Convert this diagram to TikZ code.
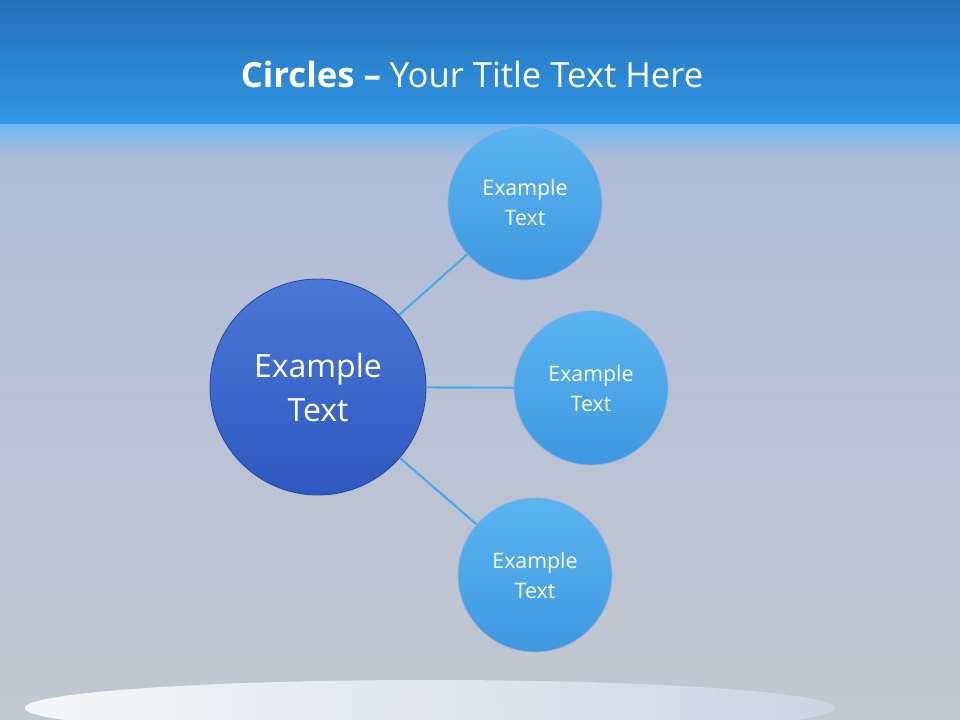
\documentclass[tikz,border=0pt]{standalone}
\usepackage{fontspec}
\setmainfont{Open Sans}
\begin{document}
\begin{tikzpicture}[x=0.75pt,y=-0.75pt,
  big/.style={circle,draw=#1!80!black,line width=0.6pt,minimum size=162pt,inner sep=0pt,text=white,align=center,font=\fontsize{24}{33}\selectfont},
  small/.style={circle,draw=cyan!40!blue!40,line width=0.6pt,minimum size=115.5pt,inner sep=0pt,top color=smtop,bottom color=smbot,text=white,align=center,font=\fontsize{16}{22.5}\selectfont},
  link/.style={draw=linkc,line width=1.6pt}]
\definecolor{bg}{HTML}{C2C8D0}
\definecolor{bgtop}{HTML}{B0BCD8}
\definecolor{hdtop}{HTML}{2470B8}
\definecolor{hdbot}{HTML}{3399E8}
\definecolor{smtop}{HTML}{5AB4F0}
\definecolor{smbot}{HTML}{3E98E0}
\definecolor{bgtopc}{HTML}{4A78D6}
\definecolor{bgbotc}{HTML}{3058C0}
\definecolor{linkc}{HTML}{4AA8EC}
\useasboundingbox (0,0) rectangle (960,720);
\shade[top color=bgtop,bottom color=bg] (0,130) rectangle (960,720);
\shade[top color=hdtop,bottom color=hdbot] (0,0) rectangle (960,130);
\shade[top color=hdbot!70!white,bottom color=bgtop] (0,125) rectangle (960,160);
\shade[left color=white,right color=bgtop!60!white,opacity=0.85] (430,708) ellipse (405 and 28);
\node[text=white,font=\fontsize{26}{30}\selectfont] (title) at (472,75) {\textbf{Circles} \textbf{–} Your Title Text Here};
\node[big=bgbotc,top color=bgtopc,bottom color=bgbotc] (c) at (318,387) {Example\\Text};
\node[small] (a) at (525,203) {Example\\Text};
\node[small] (b) at (591,388) {Example\\Text};
\node[small] (d) at (535,575) {Example\\Text};
\draw[link] (c) -- (a);
\draw[link] (c) -- (b);
\draw[link] (c) -- (d);
\end{tikzpicture}
\end{document}
